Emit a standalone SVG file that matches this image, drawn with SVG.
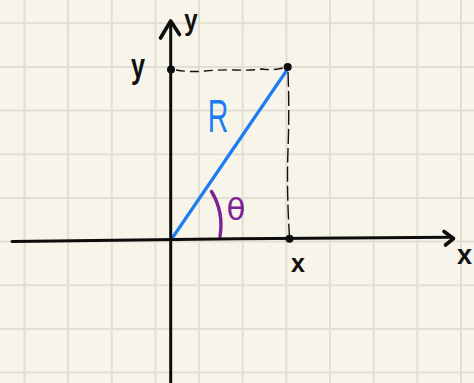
<svg xmlns="http://www.w3.org/2000/svg" width="474" height="383" viewBox="0 0 474 383">
<style>
.grid{stroke:#e1dfd3;stroke-width:2;fill:none}
.axis{stroke:#0d0d0d;stroke-width:3;fill:none;stroke-linecap:round;stroke-linejoin:round}
.head{stroke:#0d0d0d;stroke-width:3.6;fill:none;stroke-linecap:round;stroke-linejoin:round}
.dash{stroke:#111;stroke-width:1.4;fill:none}
.lbl{font-family:"Liberation Sans","DejaVu Sans",sans-serif;fill:#111;font-weight:bold}
.dot{fill:#0d0d0d}
</style>
<rect width="474" height="383" fill="#f7f5ea"/>
<g id="grid" class="grid">
<path d="M24.5,0V383M68.1,0V383M111.8,0V383M155.4,0V383M199.1,0V383M242.7,0V383M286.4,0V383M330,0V383M373.7,0V383M417.3,0V383M461,0V383"/>
<path d="M0,23.3H474M0,67H474M0,110.6H474M0,154.3H474M0,197.9H474M0,241.6H474M0,285.2H474M0,328.9H474M0,372.5H474"/>
</g>
<g id="connectors">
<path class="dash" d="M176,70 Q190,72.5 205,71 T235,70 T262,69 Q275,71 286,67" stroke-dasharray="9 5"/>
<path class="dash" d="M288,72 Q289.5,110 288,150 Q286.5,190 289.5,237" stroke-dasharray="15 4"/>
<path d="M173,237 L287,70" stroke="#1a7ef2" stroke-width="3.2" fill="none" stroke-linecap="round"/>
<path d="M211.5,191.5 Q224,212 220,236.5" stroke="#7e2196" stroke-width="3.4" fill="none" stroke-linecap="round"/>
</g>
<g id="y-axis">
<path class="axis" d="M170.7,22 L170.7,383"/>
<path class="head" d="M160.5,38 L170.7,21 L179.5,34.5"/>
<text class="lbl" font-size="30" text-anchor="middle" transform="translate(191,30) scale(0.8,1)">y</text>
</g>
<g id="x-axis">
<path class="axis" d="M12,241.4 Q120,240.3 237,238.7 L452,237.3"/>
<path class="head" d="M444,231.5 L453.5,238.5 L445.5,245"/>
<text class="lbl" x="457" y="264" font-size="27">x</text>
</g>
<g id="point-y">
<circle class="dot" cx="171" cy="69.5" r="4"/>
<text class="lbl" font-size="36" text-anchor="middle" transform="translate(138,78) scale(0.7,1)">y</text>
</g>
<g id="point-r">
<circle class="dot" cx="287.7" cy="67" r="4"/>
</g>
<g id="point-x">
<circle class="dot" cx="289.5" cy="238.7" r="4"/>
<text class="lbl" x="298" y="272" font-size="25" text-anchor="middle">x</text>
</g>
<g id="label-R">
<text class="lbl" font-size="46" text-anchor="middle" style="fill:#1a7ef2;font-weight:normal" transform="translate(218,131.5) scale(0.62,1)">R</text>
</g>
<g id="label-theta">
<text class="lbl" x="236" y="220" font-size="31" text-anchor="middle" style="fill:#7e2196;font-family:'DejaVu Sans',sans-serif;font-weight:normal">θ</text>
</g>
</svg>
